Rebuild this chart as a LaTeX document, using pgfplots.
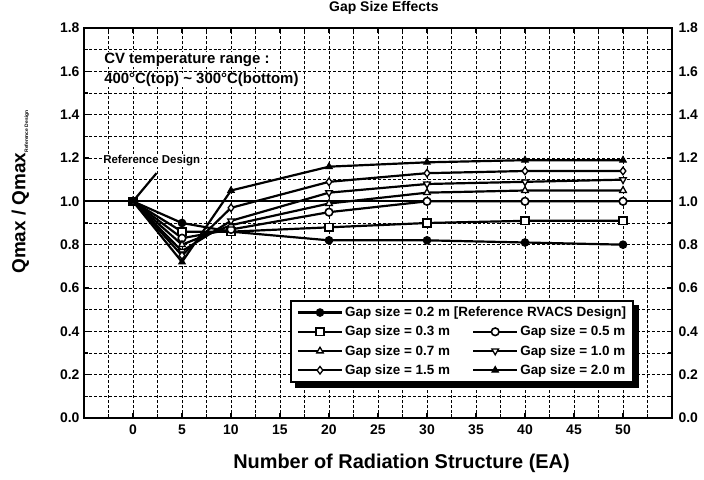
\documentclass[border=0pt]{standalone}
\usepackage{fontspec}
\setmainfont{Liberation Sans}
\usepackage{pgfplots}
\pgfplotsset{compat=1.18}
\usetikzlibrary{backgrounds}
\pgfplotstableread{
x    g02  g03  g05  g07  g10  g15  g20
0    1.00 1.00 1.00 1.00 1.00 1.00 1.00
5    0.90 0.86 0.83 0.80 0.77 0.75 0.72
10   0.86 0.86 0.87 0.89 0.91 0.97 1.05
20   0.82 0.88 0.95 0.99 1.04 1.09 1.16
30   0.82 0.90 1.00 1.04 1.08 1.13 1.18
40   0.81 0.91 1.00 1.05 1.09 1.14 1.19
50   0.80 0.91 1.00 1.05 1.10 1.14 1.19
}\datatable
\begin{document}
\begin{tikzpicture}
\begin{axis}[
  name=main,
  scale only axis, width=588bp, height=390bp,
  xmin=-5, xmax=55, ymin=0, ymax=1.8,
  xtick={0,5,10,15,20,25,30,35,40,45,50},
  minor xtick={-2.5,2.5,7.5,12.5,17.5,22.5,27.5,32.5,37.5,42.5,47.5,52.5},
  ytick={0,0.2,0.4,0.6,0.8,1.0,1.2,1.4,1.6,1.8},
  minor ytick={0.1,0.3,0.5,0.7,0.9,1.1,1.3,1.5,1.7},
  grid=both,
  major grid style={black, line width=0.6pt, dash pattern=on 3pt off 2pt},
  minor grid style={black, line width=0.6pt, dash pattern=on 3pt off 2pt},
  axis line style={line width=2.2pt},
  tick style={black, line width=1.6pt},
  major tick length=5bp, minor tick length=4bp,
  tick align=inside,
  /pgf/number format/assume math mode=true,
  yticklabel style={/pgf/number format/.cd, fixed, fixed zerofill, precision=1},
  xticklabel style={/pgf/number format/.cd, fixed, precision=0},
  tick label style={font=\fontsize{14}{16}\selectfont\bfseries},
  xticklabel shift=3bp,
  yticklabel shift=1bp,
  title={Gap Size Effects},
  title style={font=\fontsize{14}{16}\selectfont\bfseries, at={(axis description cs:0.51,1.036)}, anchor=center},
  xlabel={Number of Radiation Structure (EA)},
  xlabel style={font=\fontsize{20}{22}\selectfont\bfseries, at={(axis description cs:0.54,-0.115)}, anchor=center},
  ylabel={Qmax / Qmax\textsubscript{\fontsize{5}{5}\selectfont Reference Design}},
  ylabel style={font=\fontsize{19}{21}\selectfont\bfseries, at={(axis description cs:-0.108,0.58)}, anchor=center},
  legend columns=2,
  legend cell align=left,
  legend image code/.code={\draw[mark repeat=2,mark phase=2,#1] plot coordinates {(0bp,0bp) (22bp,0bp) (44bp,0bp)};},
  legend style={name=leg, at={(axis description cs:0.350,0.303)}, anchor=north west,
    draw=black, line width=2.2pt, fill=white,
    font=\fontsize{13.5}{15}\selectfont\bfseries,
    row sep=4bp, inner xsep=6bp, inner ysep=4bp,
    /tikz/every even column/.append style={column sep=20bp}},
  every axis plot/.append style={black, line width=2.2pt, mark size=3.8bp},
]
\coordinate (SW) at (rel axis cs:0,0);
\coordinate (NE) at (rel axis cs:1,1);
\addplot[black, line width=2pt, forget plot] coordinates {(-5,1) (55,1)};
\addplot[mark=*, mark options={solid, fill=black, line width=1pt}] table[x=x,y=g02] {\datatable};
\addlegendentry{\rlap{Gap size = 0.2 m [Reference RVACS Design]}}
\addlegendimage{empty legend}
\addlegendentry{}
\addplot[mark=square*, mark options={solid, fill=white, line width=1.6pt}] table[x=x,y=g03] {\datatable};
\addlegendentry{Gap size = 0.3 m}
\addplot[mark=*, mark options={solid, fill=white, line width=1.6pt}] table[x=x,y=g05] {\datatable};
\addlegendentry{Gap size = 0.5 m}
\addplot[mark=triangle*, mark options={solid, fill=white, line width=1.3pt}] table[x=x,y=g07] {\datatable};
\addlegendentry{Gap size = 0.7 m}
\addplot[mark=triangle*, mark options={solid, fill=white, line width=1.3pt, rotate=180}] table[x=x,y=g10] {\datatable};
\addlegendentry{Gap size = 1.0 m}
\addplot[mark=diamond*, mark options={solid, fill=white, line width=1.3pt}] table[x=x,y=g15] {\datatable};
\addlegendentry{Gap size = 1.5 m}
\addplot[mark=triangle*, mark options={solid, fill=black, line width=1pt}] table[x=x,y=g20] {\datatable};
\addlegendentry{Gap size = 2.0 m}
\draw[black, line width=2.2pt] (axis cs:2.4,1.13) -- (axis cs:0,1.0);
\node[anchor=west, font=\fontsize{11.5}{13}\selectfont\bfseries, fill=white, inner sep=0.5pt] at (axis cs:-3.1,1.186) {Reference Design};
\node[anchor=west, font=\fontsize{15}{17}\selectfont\bfseries, fill=white, inner sep=0.5pt] at (axis cs:-3.0,1.655) {CV temperature range :};
\node[anchor=west, font=\fontsize{15}{17}\selectfont\bfseries, fill=white, inner sep=0.5pt] at (axis cs:-3.0,1.56) {400°C(top) \textasciitilde{} 300°C(bottom)};
\end{axis}
\begin{axis}[
  scale only axis, width=588bp, height=390bp,
  xmin=-5, xmax=55, ymin=0, ymax=1.8,
  axis x line=none, axis y line*=right,
  y axis line style={draw=none},
  ytick={0,0.2,0.4,0.6,0.8,1.0,1.2,1.4,1.6,1.8},
  major tick length=0pt, tick style={draw=none},
  /pgf/number format/assume math mode=true,
  yticklabel style={/pgf/number format/.cd, fixed, fixed zerofill, precision=1},
  tick label style={font=\fontsize{14}{16}\selectfont\bfseries},
  yticklabel shift=3bp,
]
\addplot[draw=none] coordinates {(0,0)};
\end{axis}
\begin{scope}[on background layer]
\fill[black] ([shift={(5bp,-5bp)}]leg.south west) rectangle ([shift={(5bp,-5bp)}]leg.north east);
\end{scope}
\pgfresetboundingbox
\path ([shift={(-84bp,-62bp)}]SW) rectangle ([shift={(32bp,28bp)}]NE);
\end{tikzpicture}
\end{document}
